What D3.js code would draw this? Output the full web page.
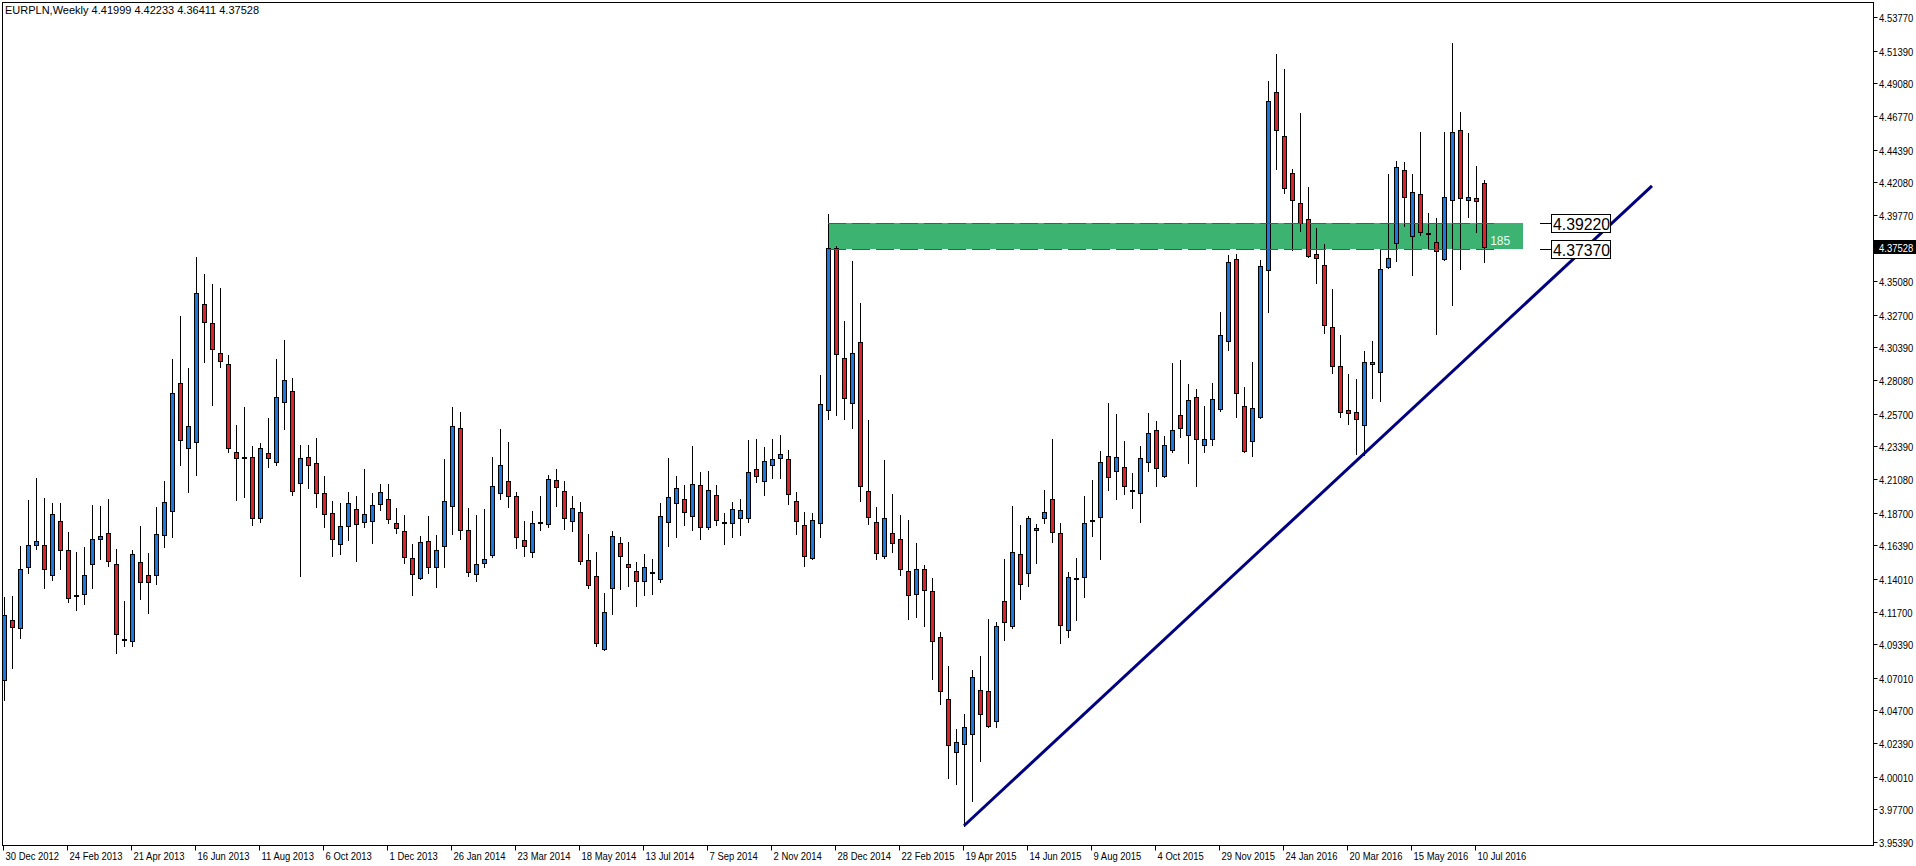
<!DOCTYPE html>
<html><head><meta charset="utf-8">
<script src="https://cdn.jsdelivr.net/npm/d3@7"></script>
<style>
html,body{margin:0;padding:0;background:#fff;overflow:hidden;}
svg{display:block;}
text{font-family:"Liberation Sans",Arial,sans-serif;font-size:11px;fill:#000;}
</style></head><body>
<svg id="chart" width="1916" height="866"></svg>
<script>
const title = "EURPLN,Weekly  4.41999 4.42233 4.36411 4.37528";
const dateLabels = ["30 Dec 2012","24 Feb 2013","21 Apr 2013","16 Jun 2013","11 Aug 2013","6 Oct 2013","1 Dec 2013","26 Jan 2014","23 Mar 2014","18 May 2014","13 Jul 2014","7 Sep 2014","2 Nov 2014","28 Dec 2014","22 Feb 2015","19 Apr 2015","14 Jun 2015","9 Aug 2015","4 Oct 2015","29 Nov 2015","24 Jan 2016","20 Mar 2016","15 May 2016","10 Jul 2016"];
const priceTicks = [4.53770,4.51390,4.49080,4.46770,4.44390,4.42080,4.39770,4.35080,4.32700,4.30390,4.28080,4.25700,4.23390,4.21080,4.18700,4.16390,4.14010,4.11700,4.09390,4.07010,4.04700,4.02390,4.00010,3.97700,3.95390];
const lastPrice = 4.37528;

const opens = [4.0685,4.1110,4.1051,4.1483,4.1643,4.1638,4.1426,4.1808,4.1603,4.1290,
4.1292,4.1504,4.1681,4.1723,4.1504,4.0974,4.0959,4.1518,4.1426,4.1426,
4.1709,4.1879,4.2785,4.2325,4.2367,4.3344,4.3209,4.2997,4.2919,4.2297,
4.2264,4.2261,4.1830,4.2289,4.2226,4.2650,4.2728,4.2077,4.2261,4.2219,
4.2006,4.1865,4.1646,4.1773,4.1893,4.1801,4.1808,4.1929,4.1964,4.1794,
4.1738,4.1547,4.1409,4.1667,4.1483,4.1631,4.1914,4.2466,4.1745,4.1433,
4.1511,4.1568,4.2006,4.2091,4.1985,4.1674,4.1589,4.1806,4.1787,4.2098,
4.2021,4.1808,4.1872,4.1532,4.1419,4.0903,4.1334,4.1653,4.1504,4.1454,
4.1383,4.1451,4.1398,4.1803,4.1936,4.1964,4.1843,4.2062,4.1767,4.1992,
4.1806,4.1795,4.1830,4.1830,4.2176,4.2091,4.2204,4.2255,4.2247,4.1949,
4.1779,4.1552,4.1795,4.2593,4.3741,4.2962,4.2644,4.3074,4.2020,4.1800,
4.1565,4.1729,4.1681,4.1454,4.1292,4.1469,4.1312,4.0988,4.0549,4.0174,
4.0230,4.0301,4.0612,4.0605,4.0393,4.1242,4.1065,4.1575,4.1440,4.1759,
4.1830,4.1964,4.1723,4.1037,4.1404,4.1412,4.1819,4.1837,4.2268,4.2162,
4.2190,4.2031,4.2006,4.2226,4.2452,4.2127,4.2311,4.2558,4.2417,4.2686,
4.2346,4.2389,4.2601,4.3082,4.3662,4.2622,4.2374,4.2544,4.3584,4.4844,
4.4533,4.4271,4.4058,4.3945,4.3698,4.3620,4.3181,4.2905,4.2594,4.2580,
4.2488,4.2919,4.2863,4.3606,4.3775,4.4292,4.3825,4.4122,4.3849,4.3783,
4.3662,4.4080,4.4575,4.4080,4.4094,4.41999];
const highs = [4.1273,4.1280,4.1634,4.1959,4.2115,4.1973,4.1938,4.1938,4.1733,4.1591,
4.1626,4.1924,4.1917,4.1966,4.1612,4.1244,4.1605,4.1775,4.1584,4.1910,
4.2093,4.2957,4.3261,4.2893,4.3679,4.3558,4.3487,4.3459,4.2983,4.2490,
4.2617,4.2339,4.2360,4.2539,4.2957,4.3091,4.2820,4.2346,4.2346,4.2396,
4.2127,4.1950,4.1936,4.2014,4.1985,4.2176,4.2006,4.2070,4.2070,4.1900,
4.1851,4.1646,4.1702,4.1844,4.1709,4.2247,4.2615,4.2580,4.1900,4.1851,
4.1893,4.2261,4.2459,4.2367,4.2014,4.1808,4.1879,4.1985,4.2134,4.2176,
4.2091,4.1985,4.1943,4.1716,4.1589,4.1299,4.1738,4.1695,4.1660,4.1520,
4.1578,4.1542,4.1936,4.2257,4.2128,4.2065,4.2340,4.2156,4.2163,4.2065,
4.1866,4.1944,4.1967,4.2384,4.2391,4.2333,4.2391,4.2419,4.2313,4.2015,
4.1873,4.1866,4.2844,4.3983,4.3756,4.3225,4.3650,4.3352,4.2525,4.1909,
4.2242,4.2002,4.1853,4.1818,4.1655,4.1499,4.1407,4.1023,4.0784,4.0339,
4.0445,4.0756,4.0855,4.1117,4.1094,4.1542,4.1917,4.1782,4.1844,4.1787,
4.2028,4.2391,4.1794,4.1447,4.1547,4.1985,4.2098,4.2304,4.2643,4.2565,
4.2374,4.2148,4.2339,4.2572,4.2516,4.2410,4.2926,4.2948,4.2778,4.2742,
4.2622,4.2785,4.3289,4.3693,4.3700,4.2759,4.2936,4.3657,4.4922,4.5115,
4.5007,4.4299,4.4695,4.4172,4.3882,4.3768,4.3450,4.3124,4.2848,4.2813,
4.3011,4.3082,4.3733,4.4264,4.4356,4.4349,4.4264,4.4561,4.3988,4.3952,
4.4561,4.5191,4.4702,4.4554,4.4320,4.42233];
const lows = [4.0544,4.0770,4.0985,4.1445,4.1614,4.1338,4.1395,4.1473,4.1239,4.1183,
4.1225,4.1338,4.1544,4.1490,4.0879,4.0928,4.0928,4.1261,4.1162,4.1367,
4.1629,4.1699,4.2209,4.2018,4.2138,4.2938,4.2633,4.2902,4.2301,4.1957,
4.1980,4.1784,4.1801,4.2190,4.2209,4.2464,4.1997,4.1423,4.2046,4.1912,
4.1770,4.1565,4.1579,4.1678,4.1530,4.1770,4.1657,4.1886,4.1794,4.1728,
4.1515,4.1289,4.1402,4.1440,4.1345,4.1487,4.1716,4.1685,4.1423,4.1388,
4.1483,4.1556,4.1964,4.1907,4.1622,4.1565,4.1558,4.1749,4.1766,4.1914,
4.1756,4.1742,4.1504,4.1334,4.0924,4.0898,4.1150,4.1327,4.1348,4.1211,
4.1290,4.1297,4.1380,4.1631,4.1699,4.1785,4.1744,4.1686,4.1757,4.1785,
4.1651,4.1694,4.1714,4.1803,4.2083,4.1997,4.2118,4.2113,4.1929,4.1716,
4.1489,4.1544,4.1697,4.2535,4.2563,4.2535,4.2472,4.1954,4.1792,4.1539,
4.1552,4.1588,4.1431,4.1120,4.1128,4.1070,4.0695,4.0513,3.9994,3.9951,
3.9654,3.9831,4.0114,4.0355,4.0355,4.0971,4.1051,4.1256,4.1353,4.1515,
4.1794,4.1660,4.0945,4.0988,4.1108,4.1271,4.1702,4.1539,4.2028,4.1964,
4.1999,4.1900,4.1801,4.2162,4.2056,4.2120,4.2297,4.2403,4.2219,4.2056,
4.2297,4.2346,4.2589,4.3018,4.2548,4.2301,4.2273,4.2539,4.3291,4.4303,
4.4129,4.3726,4.3860,4.3676,4.3497,4.3139,4.2856,4.2548,4.2495,4.2282,
4.2275,4.2683,4.2657,4.3598,4.3648,4.3896,4.3549,4.3832,4.3740,4.3132,
4.3655,4.3337,4.3591,4.3964,4.3853,4.36411];
const closes = [4.1145,4.1058,4.1469,4.1638,4.1667,4.1469,4.1858,4.1603,4.1263,4.1288,
4.1426,4.1681,4.1702,4.1525,4.1009,4.0972,4.1575,4.1377,4.1377,4.1716,
4.1943,4.2714,4.2381,4.2481,4.3422,4.3216,4.3025,4.2940,4.2325,4.2254,
4.2262,4.1830,4.2325,4.2254,4.2686,4.2806,4.2021,4.2254,4.2205,4.2006,
4.1858,4.1681,4.1773,4.1936,4.1787,4.1858,4.1922,4.2014,4.1822,4.1759,
4.1554,4.1433,4.1660,4.1483,4.1603,4.1950,4.2481,4.1745,4.1447,4.1504,
4.1539,4.2056,4.2205,4.1985,4.1695,4.1631,4.1794,4.1804,4.2105,4.2049,
4.1830,4.1900,4.1525,4.1355,4.0945,4.1164,4.1702,4.1561,4.1483,4.1383,
4.1484,4.1441,4.1843,4.1980,4.2047,4.1873,4.2070,4.1767,4.2027,4.1815,
4.1804,4.1893,4.1885,4.2154,4.2126,4.2232,4.2247,4.2282,4.1999,4.1808,
4.1560,4.1815,4.2636,4.3741,4.2990,4.2679,4.2998,4.2055,4.1838,4.1583,
4.1830,4.1653,4.1469,4.1284,4.1469,4.1319,4.0959,4.0605,4.0223,4.0249,
4.0355,4.0709,4.0443,4.0362,4.1065,4.1094,4.1589,4.1363,4.1830,4.1745,
4.1872,4.1730,4.1072,4.1412,4.1406,4.1794,4.1821,4.2226,4.2120,4.2261,
4.2056,4.2029,4.2254,4.2431,4.2183,4.2346,4.2452,4.2466,4.2665,4.2389,
4.2389,4.2672,4.3124,4.3643,4.2714,4.2308,4.2608,4.3613,4.4780,4.4575,
4.4165,4.4080,4.3917,4.3683,4.3669,4.3195,4.2905,4.2580,4.2572,4.2530,
4.2933,4.2933,4.3591,4.3669,4.4313,4.4101,4.4136,4.3853,4.3851,4.3719,
4.4101,4.4561,4.4094,4.4101,4.4073,4.37528];

const zoneBars = [103, 189.9];
const zonePrices = [4.39220, 4.37370];
const zoneLabel = "185";
const trendLine = [[120, 3.9654], [206, 4.4182]];

const candles = opens.map((o, i) => ({i, o, h: highs[i], l: lows[i], c: closes[i]}));

const plot = {left: 2.5, right: 1873.5, top: 2.5, bottom: 845.5};
const svg = d3.select("#chart");
const x = d3.scaleLinear().domain([0, 185]).range([4, 1484]);
const y = d3.scaleLinear().domain([3.9539, 4.5377]).range([842, 17]);
const snap = v => Math.round(v) + 0.5;
const SX = 0.86;
function label(parent, tx, ty, s, sx) {
  return parent.append("text")
    .attr("transform", `translate(${tx},${ty}) scale(${sx == null ? SX : sx},1)`)
    .text(s);
}

svg.append("defs").append("clipPath").attr("id", "clip")
  .append("rect").attr("x", plot.left).attr("y", plot.top)
  .attr("width", plot.right - plot.left).attr("height", plot.bottom - plot.top);

const g = svg.append("g").attr("clip-path", "url(#clip)");

// zone rectangle
g.append("rect")
  .attr("x", Math.round(x(zoneBars[0])))
  .attr("y", Math.round(y(zonePrices[0])))
  .attr("width", Math.round(x(zoneBars[1])) - Math.round(x(zoneBars[0])))
  .attr("height", Math.round(y(zonePrices[1])) - Math.round(y(zonePrices[0])))
  .attr("fill", "#3cb371");

// candles
const cg = g.append("g");
candles.forEach(d => {
  const cx = Math.round(x(d.i));
  cg.append("line").attr("x1", cx + 0.5).attr("x2", cx + 0.5)
    .attr("y1", Math.round(y(d.h))).attr("y2", Math.round(y(d.l)) + 1)
    .attr("stroke", "#000").attr("stroke-width", 1);
  const top = Math.round(y(Math.max(d.o, d.c))) + 0.5;
  const bot = Math.round(y(Math.min(d.o, d.c))) + 0.5;
  cg.append("rect").attr("x", cx - 1.5).attr("y", top)
    .attr("width", 4).attr("height", Math.max(bot - top, 1))
    .attr("fill", d.c >= d.o ? "#1e78dc" : "#dc2328")
    .attr("stroke", "#000").attr("stroke-width", 1);
});

// zone dashed lines
zonePrices.forEach(p => {
  g.append("line")
    .attr("x1", Math.round(x(zoneBars[0]))).attr("x2", 1500)
    .attr("y1", snap(y(p))).attr("y2", snap(y(p)))
    .attr("stroke", "#dc143c").attr("stroke-width", 1).attr("stroke-dasharray", "18,6");
});
label(g, x(zoneBars[1]) - 33, y(zonePrices[1]) - 4, zoneLabel, 1)
  .style("fill", "#e8fff0").style("font-size", "12px");

// trend line
g.append("line")
  .attr("x1", x(trendLine[0][0])).attr("y1", y(trendLine[0][1]))
  .attr("x2", x(trendLine[1][0])).attr("y2", y(trendLine[1][1]))
  .attr("stroke", "#000080").attr("stroke-width", 3);

// price labels of zone
zonePrices.forEach(p => {
  const yy = snap(y(p));
  svg.append("line").attr("x1", 1540).attr("x2", 1551).attr("y1", yy).attr("y2", yy)
    .attr("stroke", "#000");
  svg.append("rect").attr("x", 1551.5).attr("y", yy - 9).attr("width", 59).attr("height", 18)
    .attr("fill", "#fff").attr("stroke", "#000");
  label(svg, 1553, yy + 6.5, p.toFixed(5), 0.93).style("font-size", "17px");
});

// frame
svg.append("rect").attr("x", plot.left).attr("y", plot.top)
  .attr("width", plot.right - plot.left).attr("height", plot.bottom - plot.top)
  .attr("fill", "none").attr("stroke", "#000");

// price axis
priceTicks.forEach(p => {
  const yy = snap(y(p));
  svg.append("line").attr("x1", plot.right).attr("x2", plot.right + 4).attr("y1", yy).attr("y2", yy).attr("stroke", "#000");
  label(svg, 1879, yy + 4, p.toFixed(5));
});
{
  const yy = snap(y(lastPrice));
  svg.append("rect").attr("x", 1874).attr("y", yy - 7.5).attr("width", 42).attr("height", 14).attr("fill", "#000");
  label(svg, 1879, yy + 4, lastPrice.toFixed(5)).style("fill", "#fff");
}

// time axis
dateLabels.forEach((t, k) => {
  const tx = Math.round(x(k * 8)) - 0.5;
  svg.append("line").attr("x1", tx).attr("x2", tx).attr("y1", plot.bottom).attr("y2", plot.bottom + 5).attr("stroke", "#000");
  label(svg, tx + 2, 860, t);
});

label(svg, 5, 14, title, 1.0);
</script>
</body></html>
